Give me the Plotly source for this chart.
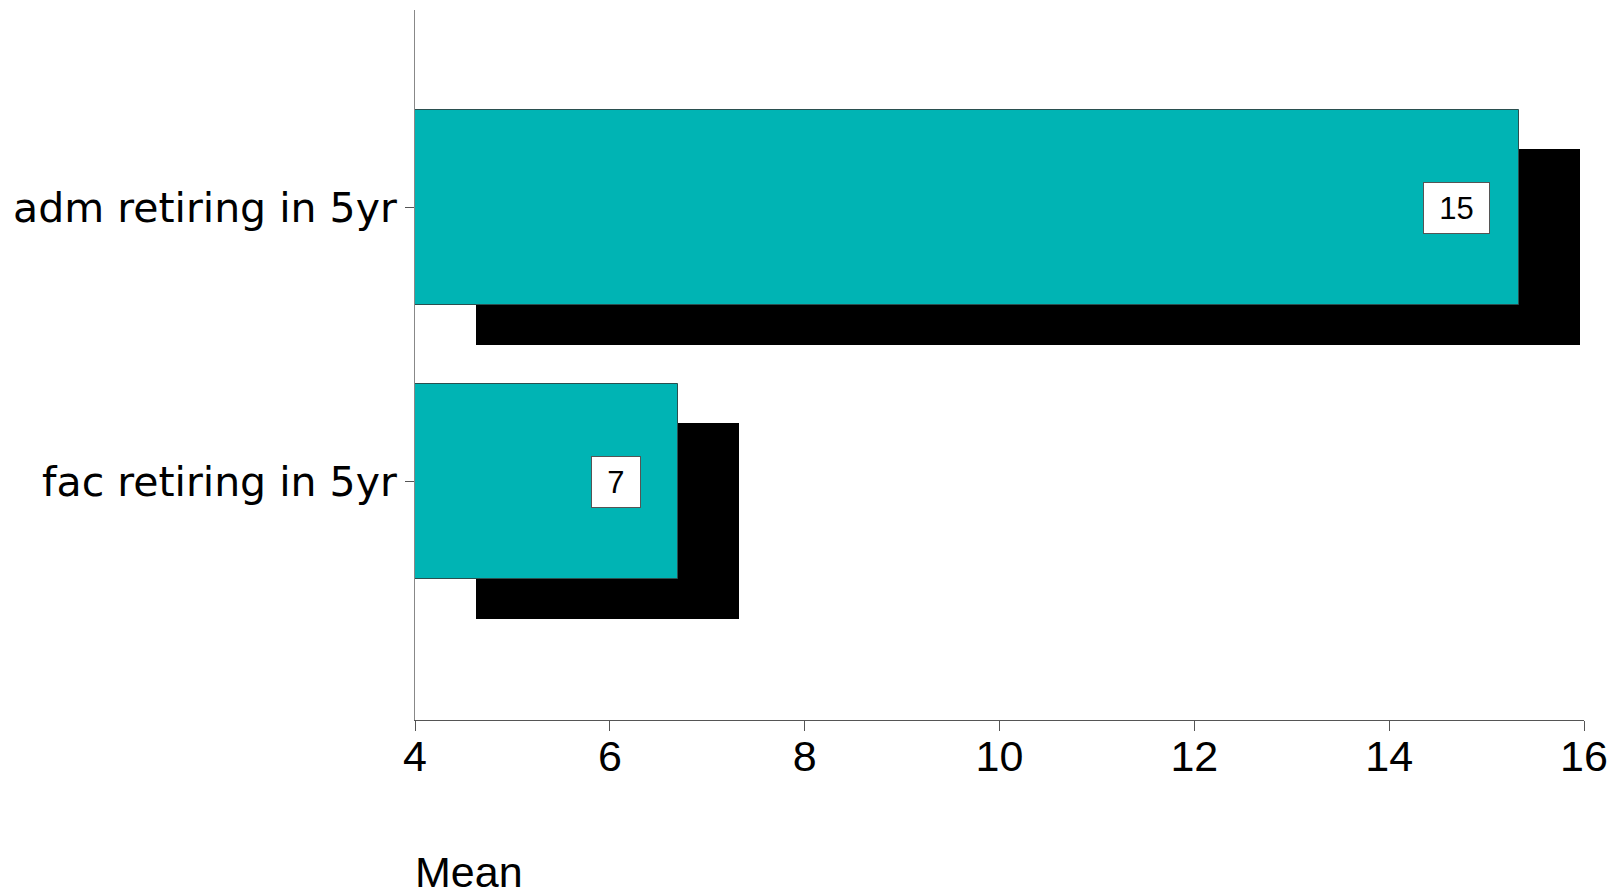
import plotly.graph_objects as go

# Data
categories = ["fac retiring in 5yr", "adm retiring in 5yr"]
means = [6.70, 15.33]
tick_values = [4, 6, 8, 10, 12, 14, 16]
axis_title = "Mean"

# Style
TEAL = "#00B4B4"
SHADOW = "black"
BASE = 4
SHADOW_DX = 0.625
SHADOW_DY = 0.144
BAR_W = 0.712
SANS = "Liberation Sans"
PAGE_OFFSET = 8  # default body margin of the html page

pos = list(range(len(categories)))
lengths = [v - BASE for v in means]

fig = go.Figure()
# shadow bars
fig.add_trace(go.Bar(
    y=[p - SHADOW_DY for p in pos], x=lengths, base=BASE + SHADOW_DX,
    orientation="h", width=BAR_W, marker=dict(color=SHADOW, line=dict(width=0)),
    hoverinfo="skip", showlegend=False))
# main bars
fig.add_trace(go.Bar(
    y=pos, x=lengths, base=BASE, orientation="h", width=BAR_W,
    marker=dict(color=TEAL, line=dict(color="#2a4f4f", width=1)),
    showlegend=False))

annotations = []
for p, v in zip(pos, means):
    txt = f"{v:.0f}"
    annotations.append(dict(
        x=v, y=p, xref="x", yref="y", text=txt, showarrow=False,
        xanchor="center", yanchor="middle", xshift=-62,
        width=30 + 17.5 * len(txt), height=50,
        bgcolor="white", bordercolor="#555555", borderwidth=1, borderpad=0,
        font=dict(family=SANS, size=31, color="black")))
annotations.append(dict(
    x=0, y=-0.2197, xref="paper", yref="paper", text=axis_title, showarrow=False,
    xanchor="left", yanchor="middle", xshift=-2, yshift=4,
    font=dict(family=SANS, size=43, color="black")))

fig.update_layout(
    width=1618 - 2 * PAGE_OFFSET, height=896 - PAGE_OFFSET,
    margin=dict(l=415 - PAGE_OFFSET, r=32 - PAGE_OFFSET, t=10 - PAGE_OFFSET, b=176),
    paper_bgcolor="white", plot_bgcolor="white",
    barmode="overlay", bargap=0,
    annotations=annotations,
    xaxis=dict(range=[4, 16], tickvals=tick_values, ticks="outside", ticklen=10,
               tickcolor="#555555", showline=True, linecolor="#555555", linewidth=1,
               showgrid=False, zeroline=False, ticklabelstandoff=-12,
               tickfont=dict(family=SANS, size=43, color="black")),
    yaxis=dict(range=[-0.870, 1.7208], tickvals=pos, ticktext=categories,
               ticks="outside", ticklen=9, tickcolor="#555555",
               showline=True, linecolor="#888888", linewidth=1,
               showgrid=False, zeroline=False,
               tickfont=dict(family="DejaVu Sans", size=41, color="black")),
)

fig.write_html("out.html")
